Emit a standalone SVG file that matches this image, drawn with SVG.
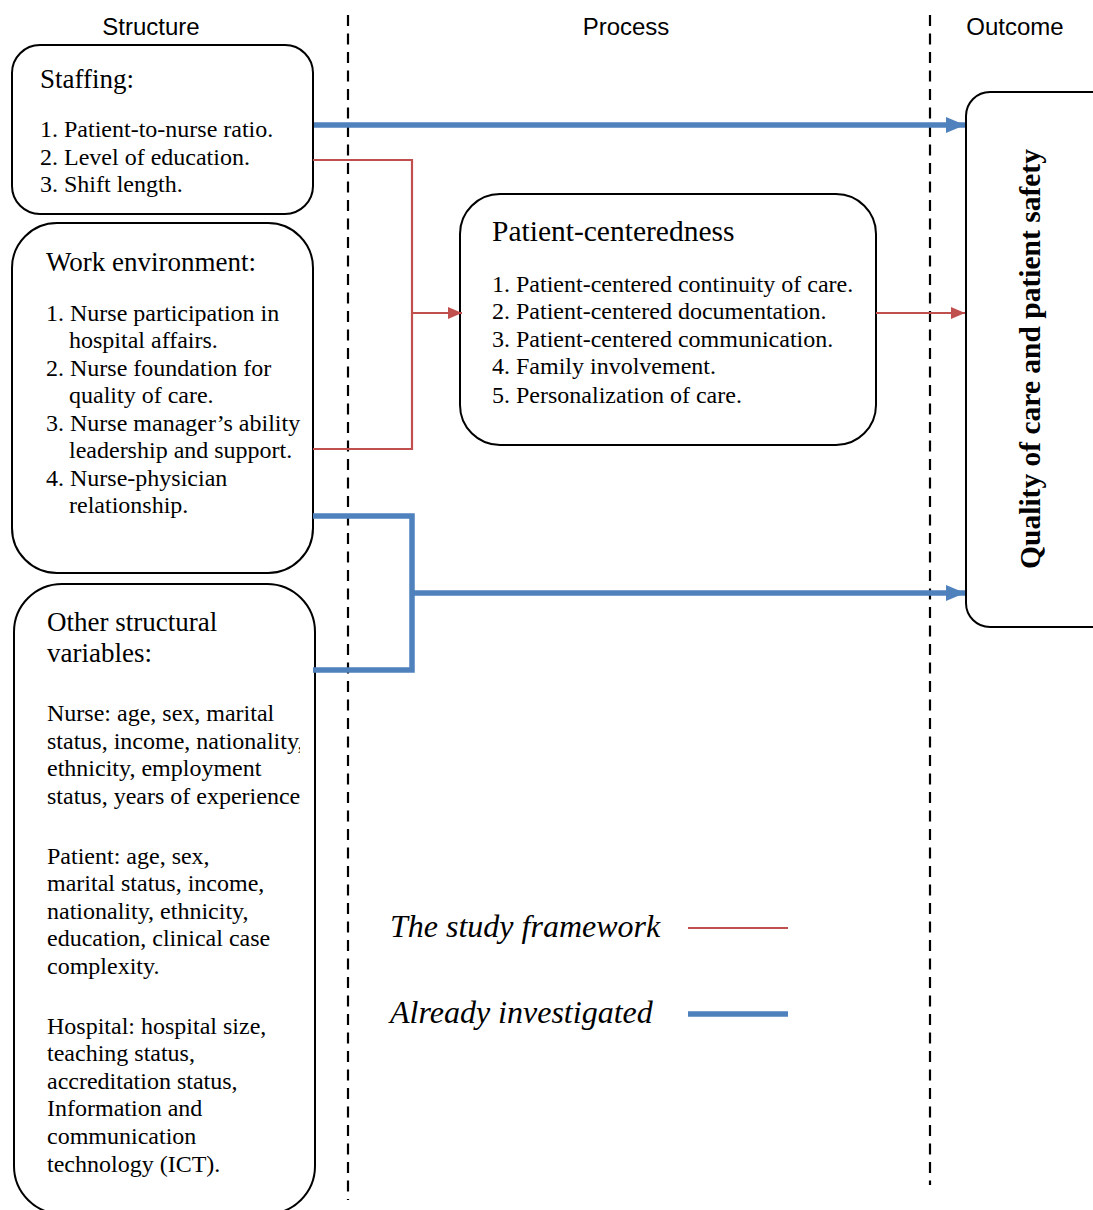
<svg xmlns="http://www.w3.org/2000/svg" width="1093" height="1210" viewBox="0 0 1093 1210">
  <defs>
    <style>
      .hdr { font-family: "Liberation Sans", Arial, sans-serif; font-size: 24px; fill: #000; }
      .t { font-family: "Liberation Serif", "Times New Roman", serif; fill: #000; }
      .title { font-size: 27px; }
      .item { font-size: 24px; }
      .box { fill: #fff; stroke: #000; stroke-width: 2; }
      .sep { stroke: #000; stroke-width: 2.2; stroke-dasharray: 11 7.5; fill: none; }
      .red { stroke: #C0504D; stroke-width: 2.2; fill: none; }
      .blue { stroke: #4F81BD; stroke-width: 5.5; fill: none; }
      .legend { font-family: "Liberation Serif", "Times New Roman", serif; font-style: italic; font-size: 32px; fill: #000; }
    </style>
    <marker id="arrRed" viewBox="0 0 10 10" refX="10" refY="5" markerWidth="14" markerHeight="12" orient="auto" markerUnits="userSpaceOnUse" preserveAspectRatio="none">
      <path d="M0,0 L10,5 L0,10 z" fill="#C0504D"/>
    </marker>
    <marker id="arrBlue" viewBox="0 0 10 10" refX="10" refY="5" markerWidth="19" markerHeight="16" orient="auto" markerUnits="userSpaceOnUse" preserveAspectRatio="none">
      <path d="M0,0 L10,5 L0,10 z" fill="#4F81BD"/>
    </marker>
    <clipPath id="otherClip">
      <rect x="14" y="584" width="286" height="630"/>
    </clipPath>
  </defs>

  <rect width="1093" height="1210" fill="#fff"/>

  <!-- column headers -->
  <g id="headers">
    <text class="hdr" x="151" y="35" text-anchor="middle">Structure</text>
    <text class="hdr" x="626" y="35" text-anchor="middle">Process</text>
    <text class="hdr" x="1015" y="35" text-anchor="middle">Outcome</text>
  </g>

  <!-- column separators -->
  <g id="separators">
    <line class="sep" x1="348" y1="15" x2="348" y2="1200"/>
    <line class="sep" x1="930" y1="15" x2="930" y2="1185"/>
  </g>

  <!-- Staffing -->
  <g id="staffing">
    <rect class="box" x="12" y="45" width="301" height="169" rx="28"/>
    <text class="t title" x="40" y="88">Staffing:</text>
    <text class="t item" x="40" y="137">1. Patient-to-nurse ratio.</text>
    <text class="t item" x="40" y="165">2. Level of education.</text>
    <text class="t item" x="40" y="192">3. Shift length.</text>
  </g>

  <!-- Work environment -->
  <g id="work-environment">
    <rect class="box" x="12" y="223" width="301" height="350" rx="45"/>
    <text class="t title" x="46" y="271">Work environment:</text>
    <text class="t item" x="46" y="321">1. Nurse participation in</text>
    <text class="t item" x="69" y="348">hospital affairs.</text>
    <text class="t item" x="46" y="376">2. Nurse foundation for</text>
    <text class="t item" x="69" y="403">quality of care.</text>
    <text class="t item" x="46" y="431">3. Nurse manager’s ability</text>
    <text class="t item" x="69" y="458">leadership and support.</text>
    <text class="t item" x="46" y="486">4. Nurse-physician</text>
    <text class="t item" x="69" y="513">relationship.</text>
  </g>

  <!-- Other structural variables -->
  <g id="other-structural">
    <rect class="box" x="14" y="584" width="301" height="630" rx="48"/>
    <g clip-path="url(#otherClip)">
      <text class="t title" x="47" y="631">Other structural</text>
      <text class="t title" x="47" y="662">variables:</text>
      <text class="t item" x="47" y="721">Nurse: age, sex, marital</text>
      <text class="t item" x="47" y="749">status, income, nationality,</text>
      <text class="t item" x="47" y="776">ethnicity, employment</text>
      <text class="t item" x="47" y="804">status, years of experience</text>
      <text class="t item" x="47" y="864">Patient: age, sex,</text>
      <text class="t item" x="47" y="891">marital status, income,</text>
      <text class="t item" x="47" y="919">nationality, ethnicity,</text>
      <text class="t item" x="47" y="946">education, clinical case</text>
      <text class="t item" x="47" y="974">complexity.</text>
      <text class="t item" x="47" y="1034">Hospital: hospital size,</text>
      <text class="t item" x="47" y="1061">teaching status,</text>
      <text class="t item" x="47" y="1089">accreditation status,</text>
      <text class="t item" x="47" y="1116">Information and</text>
      <text class="t item" x="47" y="1144">communication</text>
      <text class="t item" x="47" y="1172">technology (ICT).</text>
    </g>
  </g>

  <!-- Patient-centeredness -->
  <g id="patient-centeredness">
    <rect class="box" x="460" y="194" width="416" height="251" rx="40"/>
    <text class="t" x="492" y="241" font-size="29.5">Patient-centeredness</text>
    <text class="t item" x="492" y="292">1. Patient-centered continuity of care.</text>
    <text class="t item" x="492" y="319">2. Patient-centered documentation.</text>
    <text class="t item" x="492" y="347">3. Patient-centered communication.</text>
    <text class="t item" x="492" y="374">4. Family involvement.</text>
    <text class="t item" x="492" y="403">5. Personalization of care.</text>
  </g>

  <!-- Outcome -->
  <g id="outcome">
    <rect class="box" x="966" y="92" width="150" height="535" rx="24"/>
    <text class="t" transform="translate(1040,359) rotate(-90)" text-anchor="middle" font-size="29.5" font-weight="bold">Quality of care and patient safety</text>
  </g>

  <!-- connectors -->
  <g id="connectors">
    <line class="blue" x1="314" y1="125" x2="965" y2="125" marker-end="url(#arrBlue)"/>
    <polyline class="red" points="313,160 412,160 412,449 313,449"/>
    <line class="red" x1="412" y1="313" x2="462" y2="313" marker-end="url(#arrRed)"/>
    <line class="red" x1="876" y1="313" x2="965" y2="313" marker-end="url(#arrRed)"/>
    <polyline class="blue" points="313,516 412,516 412,670 313,670"/>
    <line class="blue" x1="412" y1="593" x2="965" y2="593" marker-end="url(#arrBlue)"/>
  </g>

  <!-- legend -->
  <g id="legend">
    <text class="legend" x="390" y="937">The study framework</text>
    <line class="red" x1="688" y1="928" x2="788" y2="928" stroke-width="2.7"/>
    <text class="legend" x="390" y="1023">Already investigated</text>
    <line class="blue" x1="688" y1="1014" x2="788" y2="1014" stroke-width="6"/>
  </g>
</svg>
